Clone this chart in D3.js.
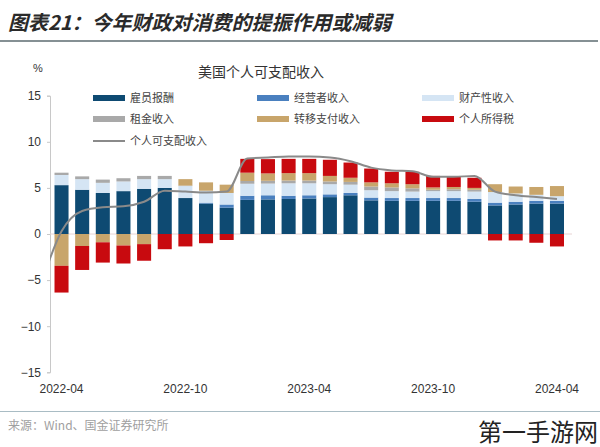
<!DOCTYPE html>
<html><head><meta charset="utf-8">
<script src="https://cdn.jsdelivr.net/npm/d3@7"></script>
<style>body{margin:0;background:#fff}svg{display:block}</style>
</head><body>
<svg id="c" width="600" height="447"></svg>
<script>
const months = ["2022-04","2022-05","2022-06","2022-07","2022-08","2022-09","2022-10","2022-11","2022-12",
"2023-01","2023-02","2023-03","2023-04","2023-05","2023-06","2023-07","2023-08","2023-09","2023-10","2023-11","2023-12",
"2024-01","2024-02","2024-03","2024-04"];
const tickLabels = ["2022-04","2022-10","2023-04","2023-10","2024-04"];
const yTicks = [15,10,5,0,-5,-10,-15];
const seriesNames = ["雇员报酬","经营者收入","财产性收入","租金收入","转移支付收入","个人所得税"];
const compensation = [5.3,4.8,4.45,4.65,4.9,5.0,3.9,3.3,2.85,3.7,3.75,3.8,3.85,4.0,4.2,3.65,3.6,3.6,3.6,3.6,3.5,3.1,3.2,3.3,3.3];
const proprietors  = [0,0,0,0,0,0,0,0.1,0.35,0.45,0.45,0.35,0.35,0.3,0.25,0.3,0.3,0.3,0.3,0.3,0.3,0.3,0.3,0.3,0.3];
const assetIncome  = [1.1,1.15,1.1,1.05,1.05,0.95,1.3,1.25,1.25,1.3,1.27,1.35,1.3,1.1,0.9,0.8,0.75,0.7,0.75,0.75,0.8,1.15,0.9,0.65,0.5];
const rentIncome   = [0.25,0.3,0.35,0.35,0.35,0.35,0.05,0.05,0,0.3,0.3,0.3,0.3,0.3,0.3,0.4,0.4,0.35,0.15,0.2,0.2,0,0,0,0];
const transfers    = [-3.45,-1.3,-0.9,-1.25,-1.1,0,0.7,0.9,0.9,0.9,0.8,0.8,0.8,0.6,0.45,0.45,0.45,0.45,0.25,0.25,0.2,0.85,0.75,0.85,1.1];
const incomeTax    = [-2.9,-2.6,-2.2,-1.95,-1.8,-1.65,-1.35,-1.0,-0.65,1.5,1.55,1.55,1.55,1.75,1.65,1.5,1.25,1.35,1.25,1.15,1.1,-0.7,-0.7,-0.95,-1.35];
const dpiPrev = -5.5; // 2022-03, only partly visible at the axis
const dpi = [0.3,2.5,2.9,3.0,3.5,4.7,4.6,4.5,4.6,8.2,8.3,8.4,8.4,8.3,7.9,7.2,6.9,6.8,6.2,6.2,6.3,4.6,4.2,4.0,3.8];
const lineName = "个人可支配收入";
const colors = ["#0e4a72","#4a80bf","#d5e5f4","#a9a9a9","#c8a56b","#c80a0f"];

const seriesArrays = [compensation,proprietors,assetIncome,rentIncome,transfers,incomeTax];
const table = months.map((m,i)=>{const o={month:m}; seriesNames.forEach((s,j)=>o[s]=seriesArrays[j][i]); return o;});

const svg = d3.select("#c");
const x = d3.scaleBand().domain(months).range([51.2,567.3]).paddingInner(0.32).paddingOuter(0.16);
const y = d3.scaleLinear().domain([-15,15]).range([372.3,95.7]);

// title
svg.append("text").attr("x",8).attr("y",30).attr("font-family","Noto Sans CJK SC")
  .attr("font-size",20).attr("font-weight","bold").attr("font-style","italic").attr("fill","#2a2a2a")
  .text("图表21：今年财政对消费的提振作用或减弱");
svg.append("line").attr("x1",0).attr("x2",598).attr("y1",41).attr("y2",41).attr("stroke","#5d6b70").attr("stroke-width",1.5);
svg.append("text").attr("x",33).attr("y",72).attr("font-family","Liberation Sans").attr("font-size",11).attr("fill","#333").text("%");
svg.append("text").attr("x",261).attr("y",77).attr("text-anchor","middle").attr("font-family","Noto Sans CJK SC")
  .attr("font-size",14).attr("fill","#333").text("美国个人可支配收入");

// legend
const legPos = [[93,98],[257,98],[422,98],[93,119],[257,119],[422,119]];
seriesNames.forEach((s,i)=>{
  const g = svg.append("g").attr("transform",`translate(${legPos[i][0]},${legPos[i][1]})`);
  g.append("rect").attr("x",0).attr("y",-3).attr("width",32).attr("height",6).attr("fill",colors[i]);
  g.append("text").attr("x",37).attr("y",4).attr("font-family","Noto Sans CJK SC").attr("font-size",11).attr("fill","#444").text(s);
});
{
  const g = svg.append("g").attr("transform","translate(93,141)");
  g.append("line").attr("x1",0).attr("x2",32).attr("stroke","#8a8a8a").attr("stroke-width",2);
  g.append("text").attr("x",37).attr("y",4).attr("font-family","Noto Sans CJK SC").attr("font-size",11).attr("fill","#444").text(lineName);
}

// y axis
const yAxis = d3.axisLeft(y).tickValues(yTicks).tickSize(3).tickPadding(6);
const ga = svg.append("g").attr("transform","translate(50,0)").call(yAxis);
ga.select(".domain").attr("stroke","#c8c8c8");
ga.selectAll(".tick line").attr("stroke","#c8c8c8");
ga.selectAll("text").attr("font-family","Liberation Sans").attr("font-size",12).attr("fill","#333");

// zero line
svg.append("line").attr("x1",50).attr("x2",572).attr("y1",y(0)).attr("y2",y(0)).attr("stroke","#e8d4d4").attr("stroke-width",1);

// bars
const stack = d3.stack().keys(seriesNames).offset(d3.stackOffsetDiverging);
const layers = stack(table);
svg.append("g").selectAll("g").data(layers).join("g").attr("fill",(d,i)=>colors[i])
  .selectAll("rect").data(d=>d).join("rect")
  .attr("x",d=>x(d.data.month)).attr("width",x.bandwidth())
  .attr("y",d=>y(Math.max(d[0],d[1]))).attr("height",d=>Math.abs(y(d[0])-y(d[1])));

// line
svg.append("clipPath").attr("id","clip").append("rect").attr("x",50).attr("y",80).attr("width",530).attr("height",300);
const pts = [[x(months[0])+x.bandwidth()/2 - x.step(), dpiPrev]].concat(months.map((m,i)=>[x(m)+x.bandwidth()/2, dpi[i]]));
svg.append("path").attr("clip-path","url(#clip)").attr("fill","none").attr("stroke","#8a8a8a").attr("stroke-width",2)
  .attr("d", d3.line().x(d=>d[0]).y(d=>y(d[1])).curve(d3.curveMonotoneX)(pts));

// x labels
const xAxis = d3.axisBottom(x).tickValues(tickLabels).tickSize(0).tickPadding(6);
const gx = svg.append("g").attr("transform","translate(0,378)").call(xAxis);
gx.select(".domain").remove();
gx.selectAll("text").attr("font-family","Liberation Sans").attr("font-size",12).attr("fill","#333");

// footer
svg.append("line").attr("x1",0).attr("x2",600).attr("y1",411.5).attr("y2",411.5).attr("stroke","#a9bcc4").attr("stroke-width",1.2);
svg.append("text").attr("x",8).attr("y",430).attr("font-family","Noto Sans CJK SC").attr("font-size",12).attr("fill","#a0a0a0").text("来源：Wind、国金证券研究所");
svg.append("text").attr("x",598).attr("y",441).attr("text-anchor","end").attr("font-family","Noto Sans CJK SC").attr("font-size",24).attr("fill","#222").text("第一手游网");
</script>
</body></html>
